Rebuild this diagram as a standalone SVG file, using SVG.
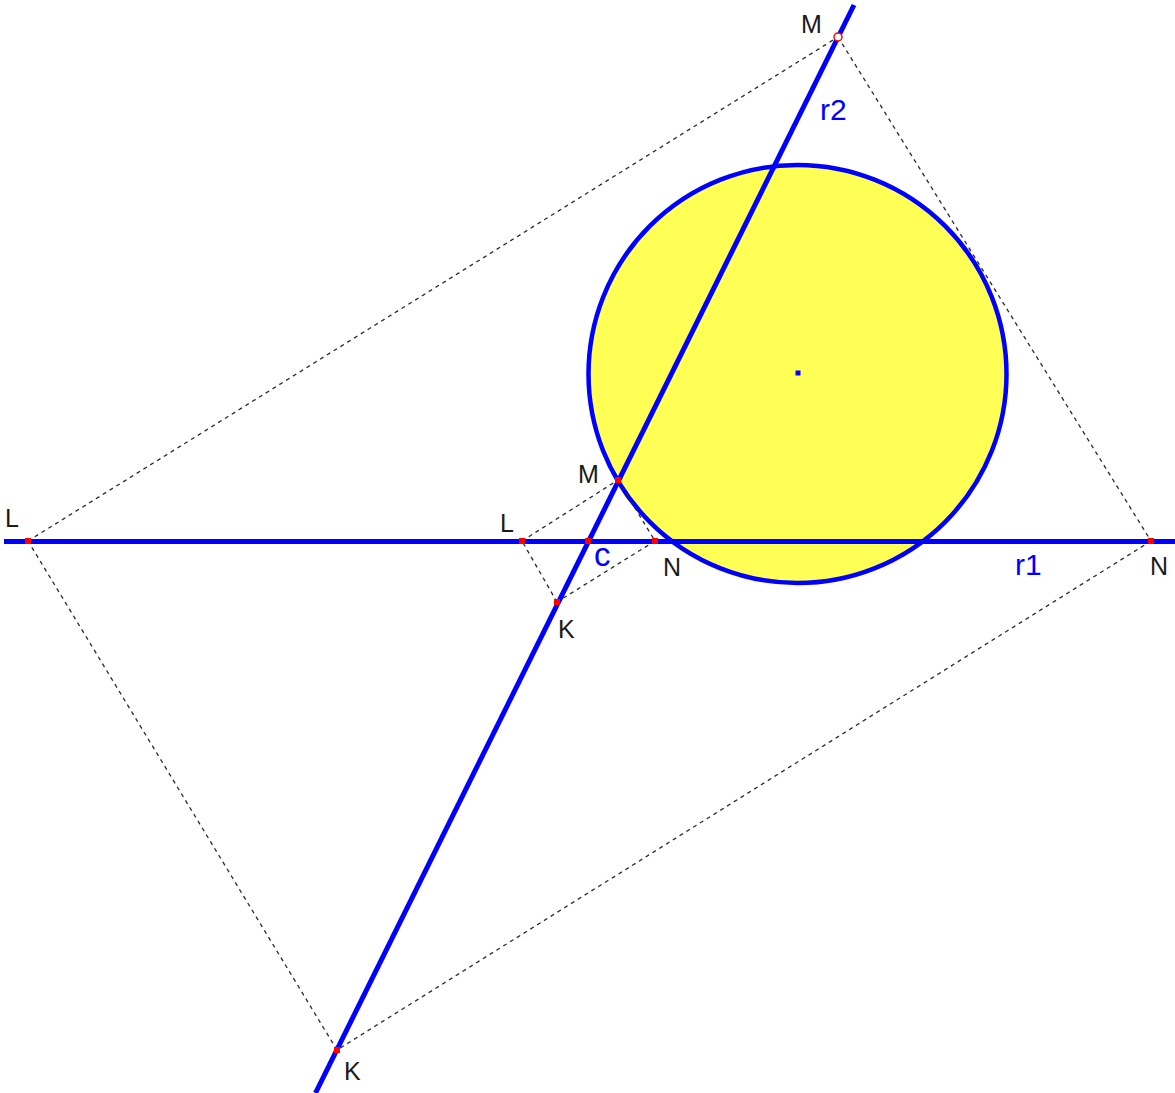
<svg xmlns="http://www.w3.org/2000/svg" width="1175" height="1093" viewBox="0 0 1175 1093">
<style>
.ln{stroke:#0000FF;stroke-width:5;fill:none}
.dash{stroke:#2a2a2a;stroke-width:1.3;stroke-dasharray:4,4;fill:none}
.pt{fill:#FF0000}
.lbl{font-family:"Liberation Sans",Arial,sans-serif;font-size:25px;fill:#1a1a1a}
.blbl{font-family:"Liberation Sans",Arial,sans-serif;font-size:30px;fill:#0000FF}
</style>
<rect x="0" y="0" width="1175" height="1093" fill="#FFFFFF"/>
<g id="circle">
<circle cx="797.5" cy="374" r="209" fill="#FFFF55" stroke="#0000FF" stroke-width="4.5"/>
<rect x="795.5" y="370.5" width="5" height="5" fill="#0000FF"/>
</g>
<g id="connectors">
<line id="r1" class="ln" x1="4" y1="541.5" x2="1175" y2="541.5"/>
<line id="r2" class="ln" x1="854" y1="5" x2="315.5" y2="1093"/>
<g id="small-square">
<line class="dash" x1="522" y1="541" x2="618" y2="480"/>
<line class="dash" x1="618" y1="480" x2="655" y2="541"/>
<line class="dash" x1="655" y1="541" x2="557" y2="602"/>
<line class="dash" x1="557" y1="602" x2="522" y2="541"/>
</g>
<g id="big-square">
<line class="dash" x1="28" y1="541" x2="838" y2="37"/>
<line class="dash" x1="838" y1="37" x2="1151" y2="541"/>
<line class="dash" x1="1151" y1="541" x2="337" y2="1050"/>
<line class="dash" x1="337" y1="1050" x2="28" y2="541"/>
</g>
</g>
<g id="pt-c"><rect class="pt" x="585" y="538" width="6" height="6"/><text class="blbl" x="594" y="566" style="font-size:33px">c</text></g>
<g id="pt-M-small"><rect class="pt" x="615" y="477" width="6" height="6"/><text class="lbl" x="578" y="483">M</text></g>
<g id="pt-L-small"><rect class="pt" x="519" y="538" width="6" height="6"/><text class="lbl" x="500" y="532">L</text></g>
<g id="pt-N-small"><rect class="pt" x="652" y="538" width="6" height="6"/><text class="lbl" x="663" y="576">N</text></g>
<g id="pt-K-small"><rect class="pt" x="554" y="599" width="6" height="6"/><text class="lbl" x="558" y="638">K</text></g>
<g id="pt-M-big"><circle cx="838" cy="37" r="4" fill="#FFFFFF" stroke="#FF0000" stroke-width="1.5"/><text class="lbl" x="801" y="33">M</text></g>
<g id="pt-L-big"><rect class="pt" x="25" y="538" width="6" height="6"/><text class="lbl" x="5" y="527">L</text></g>
<g id="pt-N-big"><rect class="pt" x="1148" y="538" width="6" height="6"/><text class="lbl" x="1150" y="575">N</text></g>
<g id="pt-K-big"><rect class="pt" x="334" y="1047" width="6" height="6"/><text class="lbl" x="344" y="1080">K</text></g>
<g id="label-r2"><text class="blbl" x="820" y="120">r2</text></g>
<g id="label-r1"><text class="blbl" x="1015" y="575">r1</text></g>
</svg>
